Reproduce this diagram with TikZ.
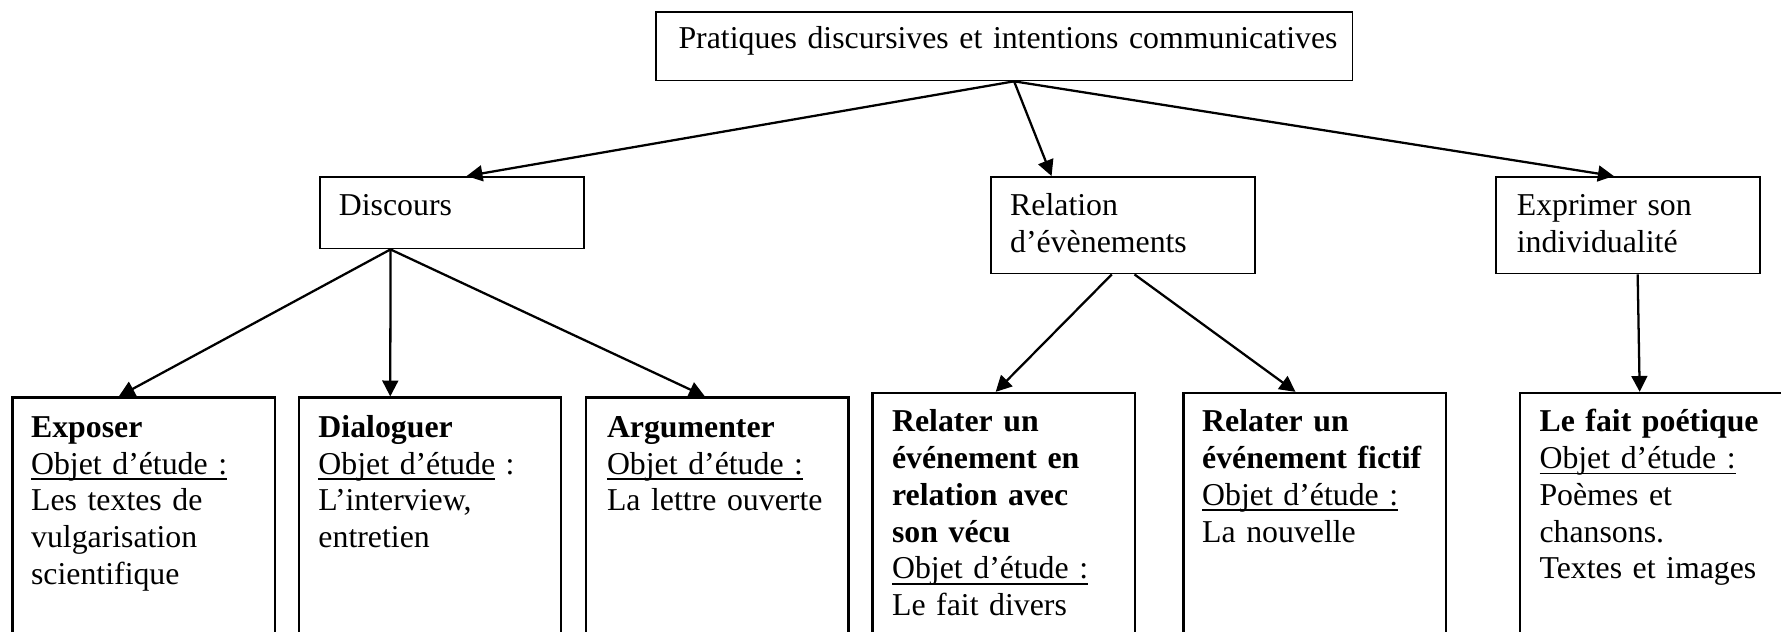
\documentclass[tikz,border=0pt]{standalone}
\usepackage{fontspec}
\setmainfont{Liberation Serif}
\usetikzlibrary{arrows.meta}
\newsavebox\myulbox
\newcommand\myul[1]{\leavevmode\sbox\myulbox{#1}\rlap{\rule[-2.6pt]{\wd\myulbox}{0.8pt}}\usebox\myulbox}
\begin{document}
\begin{tikzpicture}[x=0.5pt,y=-0.5pt,
  thinbox/.style={draw,line width=0.8pt,anchor=north west,inner sep=0pt,minimum width=116pt},
  thickbox/.style={draw,line width=1.1pt,anchor=north west,inner sep=0pt,minimum width=115.5pt,minimum height=140pt},
  txt/.style={anchor=base west,inner sep=0pt,align=left,text width=125pt,font=\fontsize{14pt}{16.2pt}\selectfont},
  arr/.style={line width=1pt,-{Triangle[length=7pt,width=7pt]}}]
\clip (0,0) rectangle (1568,556);
% boxes
\node[thinbox,minimum width=306.5pt,minimum height=30pt] (top) at (577,10) {};
\node[thinbox,minimum height=31.5pt] (disc) at (281,155) {};
\node[thinbox,minimum height=42.5pt] (rel) at (872,155) {};
\node[thinbox,minimum width=116.5pt,minimum height=42.5pt] (expr) at (1316,155) {};
\node[thickbox] (b1) at (10,349) {};
\node[thickbox] (b2) at (262,349) {};
\node[thickbox] (b3) at (515,349) {};
\node[thickbox] (b4) at (767,345) {};
\node[thickbox] (b5) at (1041,345) {};
\node[thickbox,minimum width=117pt] (b6) at (1337,345) {};
% texts
\node[txt,text width=310pt] (t0) at (597,43) {Pratiques discursives et intentions communicatives};
\node[txt] (t1) at (298,190) {Discours};
\node[txt] (t2) at (889,190) {Relation\\d’évènements};
\node[txt] (t3) at (1335,190) {Exprimer son\\individualité};
\node[txt] (s1) at (27,385) {\textbf{Exposer}\\\myul{Objet d’étude :}\\Les textes de\\vulgarisation\\scientifique};
\node[txt] (s2) at (280,385) {\textbf{Dialoguer}\\\myul{Objet d’étude} :\\L’interview,\\entretien};
\node[txt] (s3) at (534,385) {\textbf{Argumenter}\\\myul{Objet d’étude :}\\La lettre ouverte};
\node[txt] (s4) at (785,380) {\textbf{Relater un}\\\textbf{événement en}\\\textbf{relation avec}\\\textbf{son vécu}\\\myul{Objet d’étude :}\\Le fait divers};
\node[txt] (s5) at (1058,380) {\textbf{Relater un}\\\textbf{événement fictif}\\\myul{Objet d’étude :}\\La nouvelle};
\node[txt] (s6) at (1355,380) {\textbf{Le fait poétique}\\\myul{Objet d’étude :}\\Poèmes et\\chansons.\\Textes et images};
% arrows
\draw[arr] ([xshift=4.25pt]top.south) -- ([xshift=6.5pt]disc.north);
\draw[arr] ([xshift=4.25pt]top.south) -- ([xshift=-31.5pt]rel.north);
\draw[arr] ([xshift=4.25pt]top.south) -- ([xshift=-6.25pt]expr.north);
\draw[arr] ([xshift=-27pt]disc.south) -- ([xshift=-11pt]b1.north);
\draw[arr] ([xshift=-27pt]disc.south) -- ([xshift=-17.5pt]b2.north);
\draw[arr] ([xshift=-27pt]disc.south) -- ([xshift=-5.5pt]b3.north);
\draw[arr] ([xshift=-5pt]rel.south) -- ([xshift=-3.5pt]b4.north);
\draw[arr] ([xshift=5pt]rel.south) -- ([xshift=-8.5pt]b5.north);
\draw[arr] ([xshift=4.25pt]expr.south) -- ([xshift=-5.75pt]b6.north);
\end{tikzpicture}
\end{document}
